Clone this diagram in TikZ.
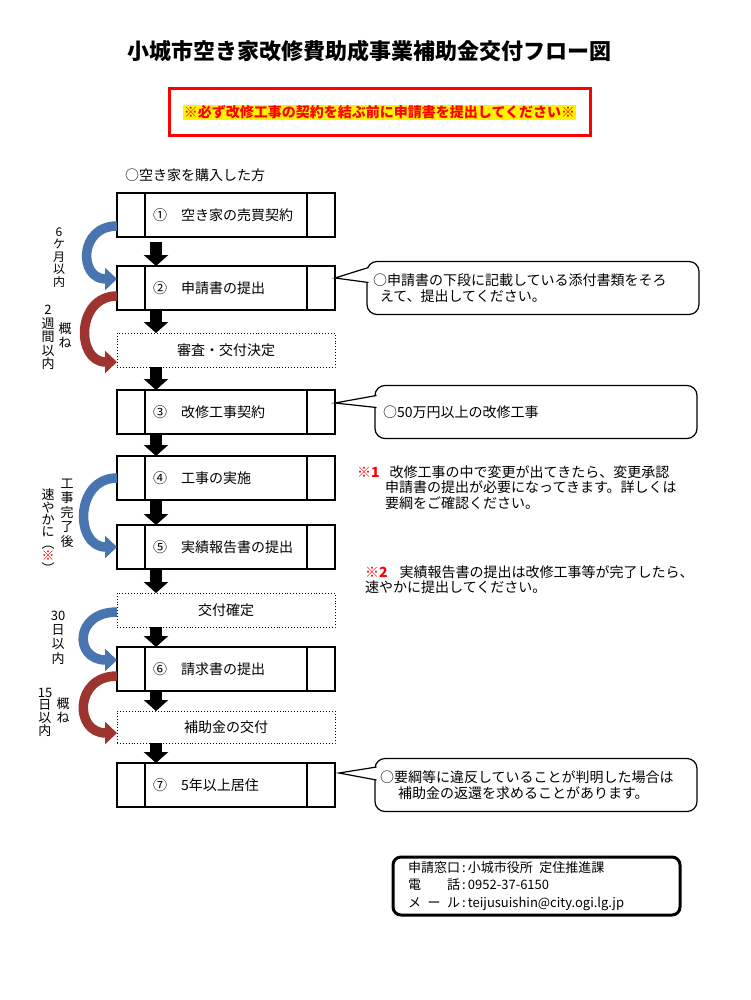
\documentclass[tikz,border=0pt]{standalone}
\usepackage{fontspec}
\setmainfont{Noto Sans CJK JP}
\usetikzlibrary{arrows.meta}
\usetikzlibrary{positioning}
\definecolor{arrowblue}{RGB}{72,117,176}
\definecolor{arrowred}{RGB}{158,52,48}

\begin{document}
\begin{tikzpicture}[
					x=1pt, y=-1pt,
					node distance=22pt,
					procbox/.style={draw, line width=1.8pt, outer sep=0pt, minimum width=218pt, minimum height=44pt, text width=146pt, align=left, font=\fontsize{14}{16}\selectfont,
						path picture={
							\draw[line width=1.2pt] ([xshift=28pt]path picture bounding box.north west) -- ([xshift=28pt]path picture bounding box.south west);
							\draw[line width=1.2pt] ([xshift=-28pt]path picture bounding box.north east) -- ([xshift=-28pt]path picture bounding box.south east);
						}},
					dotbox/.style={draw, dotted, line width=0.9pt, outer sep=0pt, minimum width=218pt, align=center, font=\fontsize{14}{16}\selectfont},
					callout/.style={draw, line width=1.2pt, outer sep=0pt, rounded corners=10pt, minimum height=53pt, align=left, font=\fontsize{14}{15.5}\selectfont},
					vlabel/.style={align=center, inner sep=0pt, font=\fontsize{13}{13.5}\selectfont},
					flow/.style={line width=12pt, -{Triangle[width=24pt, length=11pt]}},
					bluecurve/.style={arrowblue, line width=9.5pt, -{Triangle[width=22pt, length=12pt]}},
					redcurve/.style={arrowred, line width=9.5pt, -{Triangle[width=22pt, length=12pt]}}
				]
					\useasboundingbox[fill=white] (0,0) rectangle (751,1000);
					\node[font=\fontsize{22}{26}\selectfont\bfseries] (title) at (369,51) {小城市空き家改修費助成事業補助金交付フロー図};
					\node[draw=red, line width=3pt, minimum width=421pt, minimum height=47pt] (warn) at (379.5,112.5) {\setlength{\fboxsep}{1pt}\colorbox{yellow}{\fontsize{14}{16}\selectfont\bfseries\color{red}※必ず改修工事の契約を結ぶ前に申請書を提出してください※}};
					\node[anchor=west, inner sep=0pt, font=\fontsize{14}{16}\selectfont] (target) at (125,175) {○空き家を購入した方};

					\node[procbox] (baibai) at (226,215) {①　空き家の売買契約};
					\node[procbox, below=29pt of baibai] (shinsei) {②　申請書の提出};
					\node[dotbox, minimum height=34pt, below=23pt of shinsei] (shinsa) {審査・交付決定};
					\node[procbox, below=23pt of shinsa] (keiyaku) {③　改修工事契約};
					\node[procbox, below=of keiyaku] (jisshi) {④　工事の実施};
					\node[procbox, below=25pt of jisshi] (houkoku) {⑤　実績報告書の提出};
					\node[dotbox, minimum height=34pt, below=24pt of houkoku] (kakutei) {交付確定};
					\node[procbox, below=20pt of kakutei] (seikyu) {⑥　請求書の提出};
					\node[dotbox, minimum height=32pt, below=20pt of seikyu] (koufu) {補助金の交付};
					\node[procbox, line width=2.4pt, below=20pt of koufu] (kyoju) {⑦　5年以上居住};

					\draw[flow, shorten <=5pt] ([xshift=-70pt]baibai.south) -- ([xshift=-70pt]shinsei.north);
					\draw[flow] ([xshift=-70pt]shinsei.south) -- ([xshift=-70pt]shinsa.north);
					\draw[flow] ([xshift=-70pt]shinsa.south) -- ([xshift=-70pt]keiyaku.north);
					\draw[flow] ([xshift=-70pt]keiyaku.south) -- ([xshift=-70pt]jisshi.north);
					\draw[flow] ([xshift=-70pt]jisshi.south) -- ([xshift=-70pt]houkoku.north);
					\draw[flow] ([xshift=-70pt]houkoku.south) -- ([xshift=-70pt]kakutei.north);
					\draw[flow] ([xshift=-70pt]kakutei.south) -- ([xshift=-70pt]seikyu.north);
					\draw[flow] ([xshift=-70pt]seikyu.south) -- ([xshift=-70pt]koufu.north);
					\draw[flow] ([xshift=-70pt]koufu.south) -- ([xshift=-70pt]kyoju.north);

					\draw[bluecurve] ([yshift=-11pt]baibai.west) to[out=180, in=180, looseness=1.86] ([yshift=9pt]shinsei.west);
					\draw[redcurve] ([yshift=-8pt]shinsei.west) to[out=180, in=180, looseness=1.6] ([yshift=-12pt]shinsa.west);
					\draw[bluecurve] (jisshi.west) to[out=180, in=180, looseness=1.58] (houkoku.west);
					\draw[bluecurve] ([yshift=-2pt]kakutei.west) to[out=180, in=180, looseness=2.3] ([yshift=9pt]seikyu.west);
					\draw[redcurve] ([yshift=-7pt]seikyu.west) to[out=180, in=180, looseness=1.93] ([yshift=-6pt]koufu.west);

					\node[vlabel, font=\fontsize{12}{12.5}\selectfont] (rokkagetsu) at (59,257.5) {6\\ケ\\月\\以\\内};
					\node[vlabel] (nishukan) at (48,337.5) {2\\週\\間\\以\\内};
					\node[vlabel] (oomune1) at (65,335.5) {概\\ね};
					\node[vlabel, font=\fontsize{13}{14.5}\selectfont] (kanryou) at (67,513) {工\\事\\完\\了\\後};
					\node[vlabel, font=\fontsize{13}{12.2}\selectfont] (sumiyaka) at (48,531) {速\\や\\か\\に\\︵\\{\color{red}※}\\︶};
					\node[vlabel, font=\fontsize{13}{14.3}\selectfont] (sanjuu) at (58,637.5) {30\\日\\以\\内};
					\node[vlabel, font=\fontsize{13}{12.7}\selectfont] (juugo) at (45,712) {15\\日\\以\\内};
					\node[vlabel, font=\fontsize{13}{14}\selectfont] (oomune2) at (63,710) {概\\ね};

					\node[callout, right=32pt of shinsei, inner xsep=6pt, text width=320pt] (tenpu) {○申請書の下段に記載している添付書類をそろ\\\hspace*{7pt}えて、提出してください。};
					\node[callout, right=40pt of keiyaku, inner xsep=8pt, text width=306pt] (gojuuman) {○50万円以上の改修工事};
					\node[callout, right=40pt of kyoju, inner xsep=5pt, text width=312pt] (henkan) {○要綱等に違反していることが判明した場合は\\\hspace*{18pt}補助金の返還を求めることがあります。};
					\draw[line width=1.2pt, fill=white] ([xshift=1.5pt, yshift=20.5pt]tenpu.west) -- ([yshift=10pt]shinsei.east) -- ([xshift=1.5pt, yshift=5.5pt]tenpu.west);
					\draw[line width=1.2pt, fill=white] ([xshift=1.5pt, yshift=16.5pt]gojuuman.west) -- ([yshift=9pt]keiyaku.east) -- ([xshift=1.5pt, yshift=4.5pt]gojuuman.west);
					\draw[line width=1.2pt, fill=white] ([xshift=1.5pt, yshift=18pt]henkan.west) -- ([xshift=4pt, yshift=12pt]kyoju.east) -- ([xshift=1.5pt, yshift=5pt]henkan.west);

					\node[anchor=west, inner sep=0pt, align=left, font=\fontsize{14}{15.5}\selectfont] (chuui1) at (357,487.5) {{\color{red}\bfseries ※1}\hspace{10pt}改修工事の中で変更が出てきたら、変更承認\\\hspace*{28pt}申請書の提出が必要になってきます。詳しくは\\\hspace*{28pt}要綱をご確認ください。};
					\node[anchor=west, inner sep=0pt, align=left, font=\fontsize{14}{15.5}\selectfont] (chuui2) at (365,579.5) {{\color{red}\bfseries ※2}\hspace{12pt}実績報告書の提出は改修工事等が完了したら、\\速やかに提出してください。};

					\node[draw, line width=3pt, rounded corners=8pt, minimum width=287pt, minimum height=58pt, inner xsep=15pt, text width=257pt, align=left, font=\fontsize{13}{17.5}\selectfont] (madoguchi) at (536.5,886) {申請窓口\,:\,小城市役所\hspace{0.5em}定住推進課\\\makebox[4em][s]{電\hfill 話}\,:\,0952-37-6150\\\makebox[4em][s]{メ\hfill ー\hfill ル}\,:\,teijusuishin@city.ogi.lg.jp};
				\end{tikzpicture}
\end{document}
